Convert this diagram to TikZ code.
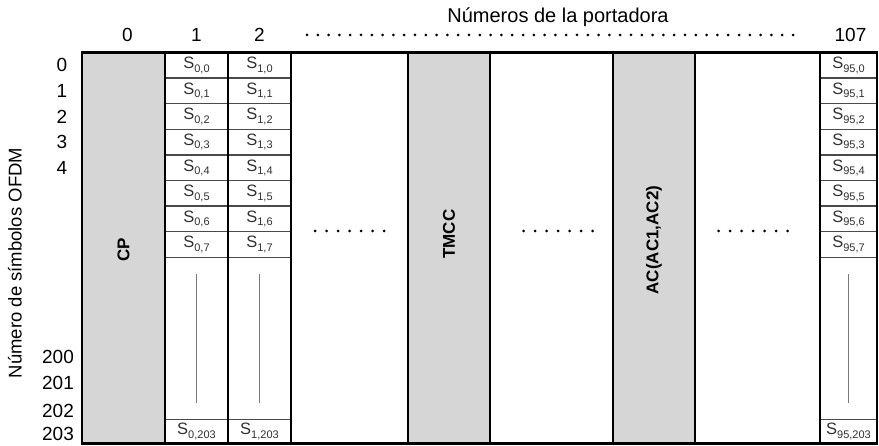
\documentclass[tikz,border=0pt]{standalone}
\usepackage{fontspec}
\setmainfont{Liberation Sans}
\usetikzlibrary{positioning,calc}

\definecolor{panelgrey}{HTML}{D6D6D6}
\definecolor{symgrey}{HTML}{303030}
\definecolor{rulegrey}{HTML}{4A4A4A}
\definecolor{guidegrey}{HTML}{7A7A7A}

% symbol S with carrier / OFDM-symbol index
\newcommand{\sym}[2]{S\raisebox{-0.4ex}{\fontsize{11}{12}\selectfont #1,#2}}

\begin{document}
\begin{tikzpicture}[
  x=1pt, y=1pt,
  font=\fontsize{19}{22}\selectfont,
  col/.style={
    draw=black,
    line width=2.2pt,
    inner sep=0pt,
    outer sep=0pt,
    minimum height=391pt
  },
  cell/.style={inner sep=0pt, outer sep=0pt, minimum height=25.6pt,
    text=symgrey, font=\fontsize{16.5}{18}\selectfont},
  rowline/.style={draw=rulegrey, line width=1.5pt, shorten <=1.1pt, shorten >=1.1pt},
  guide/.style={draw=guidegrey, line width=1.2pt},
  vtext/.style={rotate=90, font=\bfseries\fontsize{17}{20}\selectfont},
  lab/.style={inner sep=0pt}
]
\useasboundingbox (0,0) rectangle (879,445);

% columns (carriers)
\node[col, fill=panelgrey, minimum width=83pt, anchor=south west] (cp) at (82,1.5) {};
\node[col, minimum width=63pt, right=0pt of cp] (c1) {};
\node[col, minimum width=63pt, right=0pt of c1] (c2) {};
\node[col, minimum width=117pt, right=0pt of c2] (gapA) {};
\node[col, fill=panelgrey, minimum width=82pt, right=0pt of gapA] (tmcc) {};
\node[col, minimum width=123pt, right=0pt of tmcc] (gapB) {};
\node[col, fill=panelgrey, minimum width=82pt, right=0pt of gapB] (ac) {};
\node[col, minimum width=125pt, right=0pt of ac] (gapC) {};
\node[col, minimum width=57pt, right=0pt of gapC] (c107) {};

\node[vtext] (cplab) at ([yshift=-2pt]cp.center) {CP};
\node[vtext] (tmcclab) at ([yshift=14pt]tmcc.center) {TMCC};
\node[vtext] (aclab) at ([yshift=8pt]ac.center) {AC(AC1,AC2)};

% symbol cells
\foreach \colname/\carrier/\colwd in {c1/0/63, c2/1/63, c107/95/57} {
  \foreach \r in {0,...,7} {
    \node[cell, minimum width=\colwd pt, anchor=north] (\colname r\r)
      at ([yshift={-25.6*\r}]\colname.north) {\sym{\carrier}{\r}};
    \draw[rowline] (\colname r\r.south west) -- (\colname r\r.south east);
  }
  \node[cell, minimum width=\colwd pt, minimum height=24pt, anchor=south] (\colname last)
    at (\colname.south) {\sym{\carrier}{203}};
  \draw[rowline] (\colname last.north west) -- (\colname last.north east);
  \draw[guide] ([yshift=-17pt]\colname r7.south) -- ([yshift=17pt]\colname last.north);
}

% dots between carriers
\foreach \gap/\dx in {gapA/0, gapB/6.5, gapC/-4.5}
  \foreach \i in {-3,...,3}
    \fill ([xshift={\dx+11.5*\i},yshift=17pt]\gap.center) circle (1.5pt);

% carrier numbers
\node[lab] (title) at (558,428) {\fontsize{20}{22}\selectfont Números de la portadora};
\node[lab] (n0) at ([xshift=4pt,yshift=18pt]cp.north) {0};
\node[lab] (n1) at ([yshift=18pt]c1.north) {1};
\node[lab] (n2) at ([yshift=18pt]c2.north) {2};
\node[lab] (n107) at ([xshift=2pt,yshift=18pt]c107.north) {107};
\coordinate (dotsL) at (307,410);
\coordinate (dotsR) at (793,410);
\foreach \i in {0,...,45}
  \fill ($(dotsL)!\i/45!(dotsR)$) circle (1.5pt);

% OFDM symbol numbers
\coordinate (rowaxis) at (62,0);
\foreach \r in {0,...,4}
  \node[lab] (row\r) at (rowaxis |- c1r\r) {\r};
\node[lab] (row200) at (58,88) {200};
\node[lab] (row201) at (58,62) {201};
\node[lab] (row202) at (58,34) {202};
\node[lab] (row203) at (58,11) {203};
\node[lab, rotate=90] (axislab) at (15,182) {\fontsize{18.5}{20}\selectfont Número de símbolos OFDM};

\end{tikzpicture}
\end{document}
